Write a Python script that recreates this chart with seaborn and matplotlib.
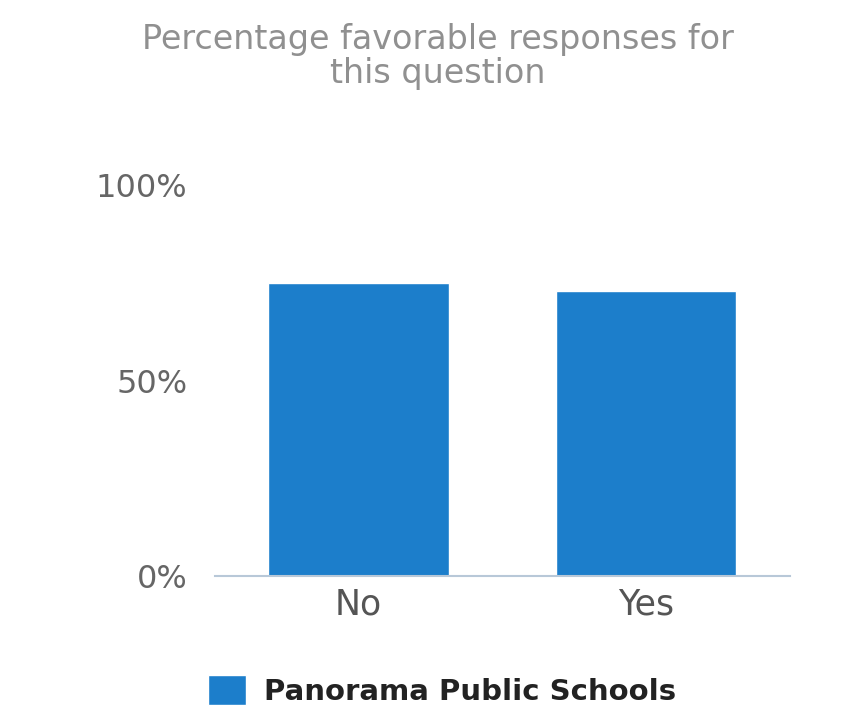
import matplotlib
matplotlib.use("Agg")
import matplotlib.pyplot as plt
import seaborn as sns
import pandas as pd
from matplotlib.patches import Patch

categories = ["No", "Yes"]
values = [75, 73]
series_name = "Panorama Public Schools"
y_ticks = [0, 50, 100]
y_tick_labels = ["0%", "50%", "100%"]
title = "Percentage favorable responses for\nthis question"

bar_color = "#1c7ecb"

sns.set_theme(style="white")
plt.rcParams['font.family'] = ['DejaVu Sans']

df = pd.DataFrame({"category": categories, "value": values})

fig = plt.figure(figsize=(8.5, 7.21), dpi=100)
ax = fig.add_axes([0.253, 0.201, 0.676, 0.542])
sns.barplot(data=df, x="category", y="value", color=bar_color, width=0.63,
            saturation=1, ax=ax)
ax.set_ylim(0, 100)
ax.set_yticks(y_ticks)
ax.set_yticklabels(y_tick_labels, fontsize=23, color="#666666")
ax.tick_params(axis="x", labelsize=25, labelcolor="#555555", length=0, pad=8)
ax.tick_params(axis="y", length=0, pad=20)
ax.set_xlabel("")
ax.set_ylabel("")
for s in ["top", "right", "left"]:
    ax.spines[s].set_visible(False)
ax.spines["bottom"].set_color("#b8c8d8")
ax.spines["bottom"].set_linewidth(1.5)
ax.set_xlim(-0.5, 1.5)

fig.text(0.515, 0.922, title, ha="center", va="center", fontsize=24,
         color="#909090", linespacing=1.05)

fig.legend(handles=[Patch(facecolor=bar_color, label=series_name)],
           loc="center", bbox_to_anchor=(0.52, 0.042), frameon=False,
           prop={"size": 21, "weight": "bold"}, handlelength=1.3,
           handleheight=1.2, handletextpad=0.6, labelcolor="#222222")

fig.savefig("out.png", dpi=100)
